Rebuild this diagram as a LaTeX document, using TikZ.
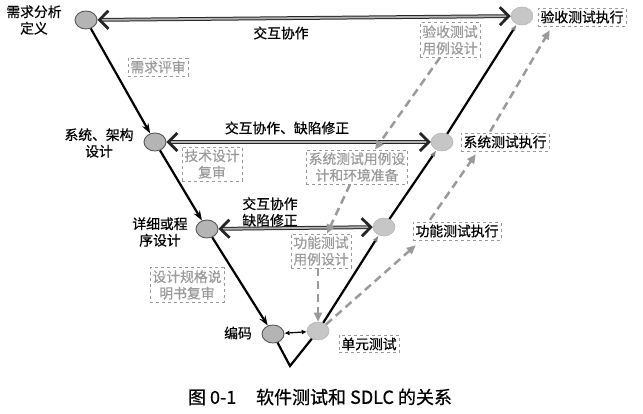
\documentclass[tikz,border=0pt]{standalone}
\usepackage{fontspec}
\setmainfont{Noto Sans CJK SC}[FakeBold=0.6]
\usetikzlibrary{arrows.meta, shapes.geometric, positioning}
\definecolor{devgray}{HTML}{B4B4B4}
\definecolor{tstgray}{HTML}{C6C6C6}
\definecolor{txtgray}{HTML}{9A9A9A}

\begin{document}
\begin{tikzpicture}[x=1pt, y=-1pt,
  font=\fontsize{13.8pt}{16.5pt}\selectfont,
  devnode/.style={ellipse, draw=black!65, fill=devgray, line width=0.9pt, minimum width=22pt, minimum height=18pt, inner sep=0pt},
  tstnode/.style={ellipse, draw=tstgray!90!black, fill=tstgray, line width=0.5pt, minimum width=22pt, minimum height=18pt, inner sep=0pt},
  reviewbox/.style={draw=black!40, dashed, line width=0.7pt, text=txtgray, align=center, inner sep=2.5pt},
  execbox/.style={draw=black!40, dashed, line width=0.7pt, inner sep=2.5pt},
  arm/.style={line width=2.2pt},
  downarm/.style={arm, -{Stealth[length=10pt,width=7pt]}},
  uparm/.style={arm, -{Latex[length=7pt,width=5pt,gray]}},
  talk/.style={draw=black!85, double=gray!60, double distance=1.8pt, line width=1pt,
    {Straight Barb[length=9pt,width=18pt,line width=2.8pt]}-{Straight Barb[length=9pt,width=18pt,line width=2.8pt]}},
  testflow/.style={draw=txtgray, line width=2.5pt, dash pattern=on 8pt off 5pt, -{Triangle[length=9pt,width=8pt]}}]
\useasboundingbox (0,0) rectangle (643,414);

% development side
\node[devnode] (A) at (86,20) {};
\node[devnode] (B) at (155,142) {};
\node[devnode] (C) at (207,229) {};
\node[devnode] (D) at (273,334) {};
\coordinate (V) at (290,366);
% testing side
\node[tstnode] (H) at (318,331) {};
\node[tstnode] (G) at (384,227) {};
\node[tstnode] (F) at (442,142) {};
\node[tstnode] (E) at (522,16) {};

% phase names
\node[align=center] (lA) at (34,20) {需求分析\\定义};
\node[align=center] (lB) at (99,143) {系统、架构\\设计};
\node[align=center] (lC) at (160,232) {详细或程\\序设计};
\node (lD) at (238,333) {编码};

\node[execbox] (eE) at (582,17) {验收测试执行};
\node[execbox] (eF) at (505,142) {系统测试执行};
\node[execbox] (eG) at (457,231) {功能测试执行};
\node[execbox] (eH) at (369,344) {单元测试};

\node[reviewbox] (rA) at (158,67) {需求评审};
\node[reviewbox] (rB) at (212,164) {技术设计\\复审};
\node[reviewbox] (rC) at (187,285) {设计规格说\\明书复审};
\node[reviewbox] (dE) at (450,40) {验收测试\\用例设计};
\node[reviewbox] (dF) at (357,167) {系统测试用例设\\计和环境准备};
\node[reviewbox] (dG) at (321,251) {功能测试\\用例设计};

% the V
\draw[downarm] (A) -- (B);
\draw[downarm] (B) -- (C);
\draw[downarm] (C) -- (D);
\draw[arm] (D) -- (V) -- (H);
\draw[uparm] (H) -- (G);
\draw[uparm] (G) -- (F);
\draw[uparm] (F) -- (E);

% interaction
\draw[talk] (A) -- (E);
\draw[talk] (B) -- (F);
\draw[talk] (C) -- (G);
\draw[line width=1.2pt, {Latex[length=5pt,width=5pt]}-{Latex[length=5pt,width=5pt]}] (D) -- (H);
\node (iA) at (281,33) {交互协作};
\node (iB) at (287,128) {交互协作、缺陷修正};
\node[align=center] (iC) at (270,212) {交互协作\\缺陷修正};

% test design and execution flow
\draw[testflow] ([xshift=-10pt]dE.south) -- ([xshift=18pt]dF.north);
\draw[testflow] ([xshift=-7pt]dF.south) -- ([xshift=6pt]dG.north);
\draw[testflow] (dG.south -| H) -- (H);
\draw[testflow] (H.north east) -- ([xshift=3pt,yshift=-5pt]eG.south west);
\draw[testflow] ([xshift=-27pt,yshift=2pt]eG.north) -- ([xshift=15pt,yshift=-3pt]eF.south west);
\draw[testflow] ([xshift=-15pt,yshift=1pt]eF.north) -- ([xshift=12pt,yshift=-4pt]eE.south west);

\node[font=\fontsize{18pt}{20pt}\selectfont] (cap) at (320,397) {图 0-1\hspace{1.1em}软件测试和 SDLC 的关系};
\end{tikzpicture}
\end{document}
